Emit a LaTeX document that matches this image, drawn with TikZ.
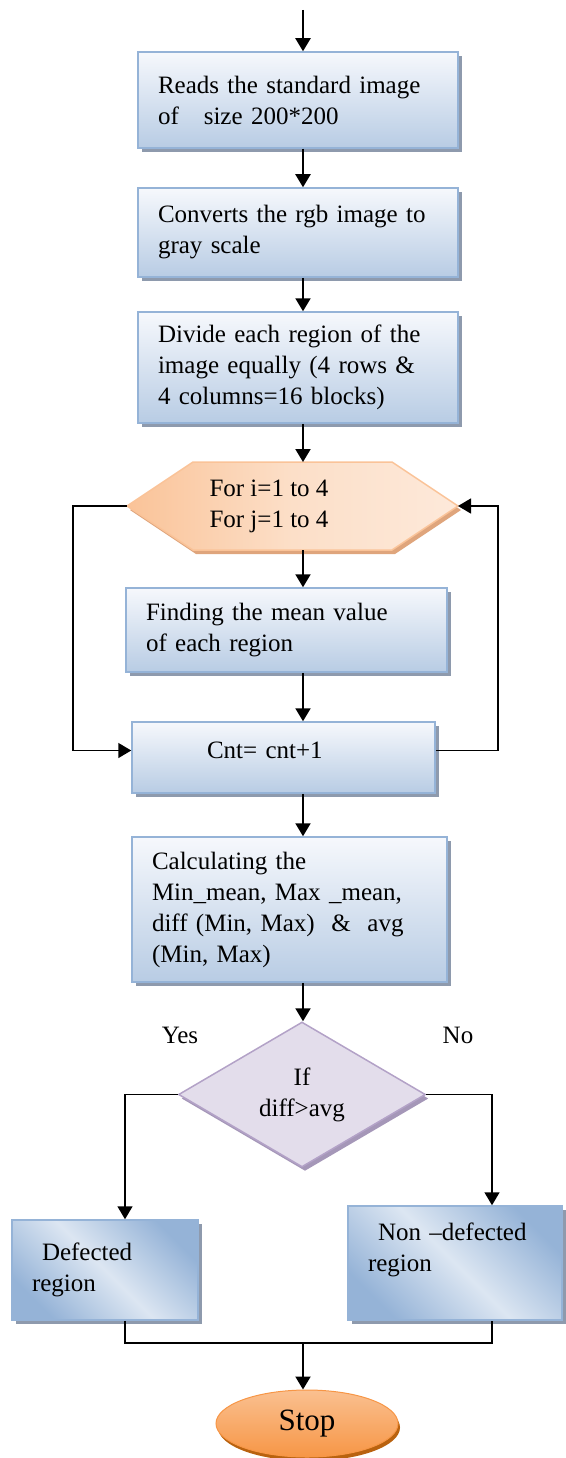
\documentclass[tikz,border=0pt]{standalone}
\usepackage{fontspec}
\setmainfont{Liberation Serif}
\usetikzlibrary{arrows.meta,positioning,calc,shapes.geometric,shadows}
\definecolor{fcedge}   {HTML}{95B3D7}
\definecolor{fctop}    {HTML}{F6F8FC}
\definecolor{fcbot}    {HTML}{B8CCE4}
\definecolor{fcmid}    {HTML}{DCE6F2}
\definecolor{fcshade}  {HTML}{8E9AAD}
\definecolor{hexedge}  {HTML}{FAC398}
\definecolor{hexlight} {HTML}{FCDFC8}
\definecolor{hexright} {HTML}{FDE9DA}
\definecolor{hexshade} {HTML}{DFA57C}
\definecolor{ifedge}   {HTML}{B3A2C7}
\definecolor{iffill}   {HTML}{E3DDEB}
\definecolor{ifshade}  {HTML}{A597B8}
\definecolor{stoptop}  {HTML}{FAC090}
\definecolor{stopbot}  {HTML}{F79646}
\definecolor{stopshade}{HTML}{B9620F}
\newcommand\fcfont{\fontsize{25}{31}\selectfont}
\newcommand\stopfont{\fontsize{31}{36}\selectfont}
\tikzset{
  fcbox/.style={draw=fcedge, line width=1.5pt, top color=fctop, bottom color=fcbot,
                inner xsep=20pt, inner ysep=0pt, align=left,
                drop shadow={shadow xshift=4pt, shadow yshift=-4pt, fill=fcshade, opacity=1}},
  fcend/.style={fcbox, left color=fcedge, right color=fcedge, middle color=fcmid,
                shading angle=-45},
  hexbox/.style={draw=hexedge, line width=1.5pt, left color=hexedge, right color=hexright,
                 middle color=hexlight,
                 drop shadow={shadow xshift=3pt, shadow yshift=-4pt, fill=hexshade, opacity=1}},
  ifbox/.style={diamond, draw=ifedge, line width=1.5pt, fill=iffill, inner sep=0pt,
                minimum width=247pt, minimum height=145pt, align=center,
                drop shadow={shadow xshift=3pt, shadow yshift=-4pt, fill=ifshade, opacity=1}},
  stopbox/.style={ellipse, draw=stopbot, line width=1pt, top color=stoptop, bottom color=stopbot,
                  minimum width=182pt, minimum height=67pt, inner sep=0pt, font=\stopfont,
                  drop shadow={shadow xshift=2pt, shadow yshift=-4pt, fill=stopshade, opacity=1}},
  flow/.style={-{Triangle[length=13pt,width=15pt]}, line width=2pt},
  back/.style={line width=1.5pt},
  backflow/.style={back, -{Triangle[length=13pt,width=15pt]}},
}
\begin{document}
\begin{tikzpicture}[x=1pt,y=-1pt, every node/.style={font=\fcfont}]
  \useasboundingbox (0,0) rectangle (565,1458);
  \coordinate (in) at (303,10);
  \coordinate (lrail) at (73,0);
  \coordinate (rrail) at (498,0);
  \coordinate (lcol) at (125,0);
  \coordinate (rcol) at (492,0);
  \coordinate (join) at (303,1343);
  % steps before the loop
  \node[fcbox, text width=280pt, minimum height=96pt] (read) at (298,100)
    {Reads the standard image\\of \ \ size 200*200};
  \node[fcbox, text width=280pt, minimum height=89pt] (gray) at (298,232.5)
    {Converts the rgb image to\\gray scale};
  \node[fcbox, text width=280pt, minimum height=111pt] (divide) at (298,367.5)
    {Divide each region of the\\image equally (4 rows \&\\4 columns=16 blocks)};
  % loop header
  \path[hexbox] (127,506) coordinate (loopw) -- (193,462) -- (392,462)
    -- (458,506) coordinate (loope) -- (392,550) -- (193,550) -- cycle;
  \coordinate (loopn) at (303,462);
  \coordinate (loops) at (303,550);
  \node[align=left] (loop) at (269,506) {For i=1 to 4\\For j=1 to 4};
  \node[fcbox, text width=281pt, minimum height=84pt] (mean) at (286.5,630)
    {Finding the mean value\\of each region};
  \node[fcbox, text width=263pt, minimum height=71pt, text depth=15pt] (cnt) at (283.5,757.5)
    {\hspace*{55pt}Cnt= cnt+1};
  % after the loop
  \node[fcbox, text width=275pt, minimum height=145pt] (calc) at (289.5,909.5)
    {Calculating the\\Min\_mean, Max \_mean,\\diff (Min, Max)~ \&~ avg\\(Min, Max)};
  \node[ifbox] (cond) at (302,1094.5) {If\\diff>avg};
  \node (yes) at (180,1035) {Yes};
  \node (no) at (458,1035) {No};
  \node[fcend, text width=146pt, minimum height=100pt] (defect) at (105,1270)
    {\hspace*{10pt}Defected\\region};
  \node[fcend, text width=174pt, minimum height=114pt] (nondef) at (455,1263)
    {\hspace*{10pt}Non –defected\\region\\\mbox{}};
  \node[stopbox] (stop) at (307,1423.5) {Stop};
  % connectors
  \draw[flow] (in) -- (in |- read.north);
  \draw[flow] (in |- read.south) -- (in |- gray.north);
  \draw[flow] (in |- gray.south) -- (in |- divide.north);
  \draw[flow] (in |- divide.south) -- (loopn);
  \draw[flow] (loops) -- (in |- mean.north);
  \draw[flow] (in |- mean.south) -- (in |- cnt.north);
  \draw[backflow] (loopw) -- (loopw -| lrail) |- ([yshift=7pt]cnt.west);
  \draw[backflow] ([yshift=7pt]cnt.east) -- ([yshift=7pt]cnt.east -| rrail) |- (loope);
  \draw[flow] (in |- cnt.south) -- (in |- calc.north);
  \draw[flow] (in |- calc.south) -- (in |- cond.north);
  \draw[backflow] (cond.west) -| (lcol |- defect.north);
  \draw[backflow] (cond.east) -| (rcol |- nondef.north);
  \draw[back] (lcol |- defect.south) |- (join) -| (rcol |- nondef.south);
  \draw[flow] (join) -- (join |- stop.north);
\end{tikzpicture}
\end{document}
